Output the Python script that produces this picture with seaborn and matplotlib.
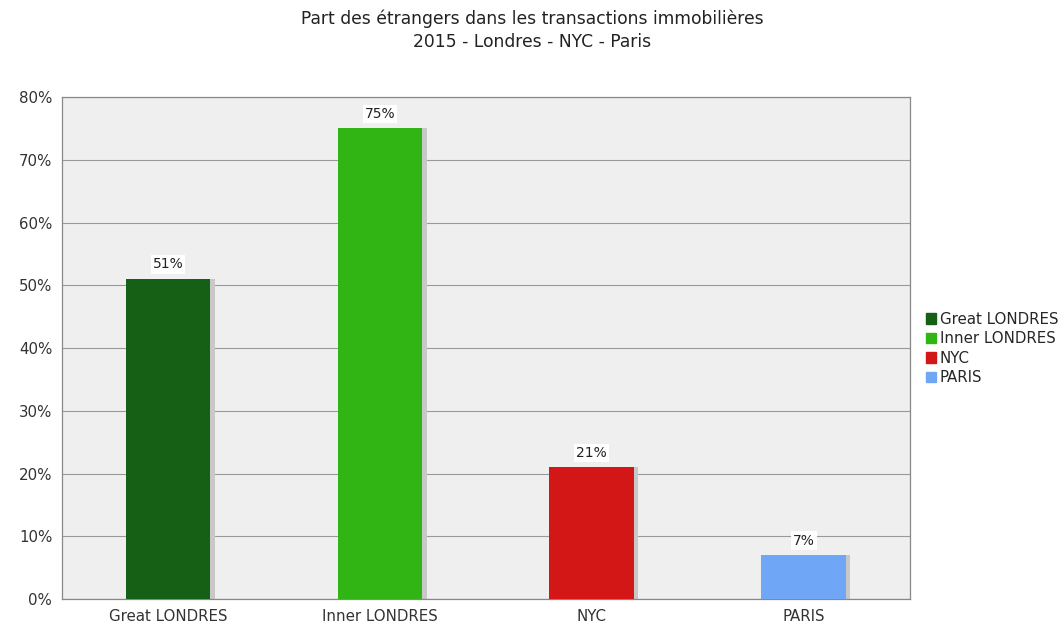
import matplotlib
matplotlib.use("Agg")
import matplotlib.pyplot as plt
import seaborn as sns
import pandas as pd
from matplotlib.ticker import FuncFormatter, FixedLocator

categories = ["Great LONDRES", "Inner LONDRES", "NYC", "PARIS"]
values = [51, 75, 21, 7]
colors = ["#156015", "#31b514", "#d31616", "#6fa7f6"]

df = pd.DataFrame({"zone": categories, "part": values})

sns.set_style("white")
plt.rcParams['font.family'] = ['DejaVu Sans']

fig = plt.figure(figsize=(10.64, 6.31), dpi=100)
ax = fig.add_axes([0.0583, 0.0507, 0.7967, 0.7955])
ax.set_facecolor("#efefef")

sns.barplot(data=df, x="zone", y="part", hue="zone", palette=colors,
            dodge=False, width=0.4, saturation=1, ax=ax, legend=False,
            edgecolor="none", zorder=3)

# light shadow on the right side of each bar
for p in ax.patches:
    ax.add_patch(plt.Rectangle((p.get_x() + p.get_width(), 0), 0.02, p.get_height(),
                               color="#c8c8c8", zorder=2, lw=0))

for i, v in enumerate(values):
    ax.text(i, v + 1.2, f"{v}%", ha="center", va="bottom", fontsize=10, color="#222222",
            bbox=dict(facecolor="white", edgecolor="none", pad=1.5), zorder=4)

ax.set_ylim(0, 80)
ax.set_xlim(-0.5, 3.5)
ax.yaxis.set_major_locator(FixedLocator(range(0, 81, 10)))
ax.yaxis.set_major_formatter(FuncFormatter(lambda y, _: f"{int(y)}%"))
ax.grid(axis="y", color="#999999", linewidth=0.8, zorder=0)
ax.set_axisbelow(True)
ax.set_xlabel("")
ax.set_ylabel("")
ax.tick_params(axis="both", labelsize=10.8, colors="#333333", length=0, pad=7)
ax.set_xticks([-0.5, 0.5, 1.5, 2.5, 3.5], minor=True)
ax.tick_params(axis="x", which="minor", length=4, color="#888888", direction="out")
for s in ax.spines.values():
    s.set_color("#888888")
    s.set_linewidth(0.9)

handles = [plt.Rectangle((0, 0), 1, 1, color=c) for c in colors]
fig.legend(handles, categories, loc="center left", bbox_to_anchor=(0.863, 0.448),
           frameon=False, fontsize=10.8, handlelength=0.7, handleheight=0.7,
           handletextpad=0.25, labelspacing=0.3, borderpad=0)

fig.suptitle("Part des étrangers dans les transactions immobilières\n2015 - Londres - NYC - Paris",
             y=0.985, fontsize=12.3, color="#222222", linespacing=1.35)

fig.savefig("out.png", dpi=100)
